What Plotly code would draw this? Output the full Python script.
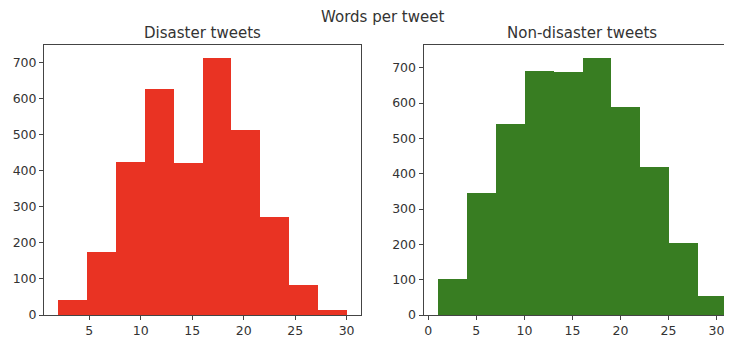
import plotly.graph_objects as go

# Data
dis_edges = [2, 4.8, 7.6, 10.4, 13.2, 16, 18.8, 21.6, 24.4, 27.2, 30]
dis_counts = [42, 175, 425, 625, 420, 712, 512, 272, 83, 15]
non_edges = [1, 4, 7, 10, 13, 16, 19, 22, 25, 28, 31]
non_counts = [101, 345, 542, 690, 687, 728, 588, 420, 205, 53]
dis_xticks = [5, 10, 15, 20, 25, 30]
non_xticks = [0, 5, 10, 15, 20, 25, 30]
yticks = [0, 100, 200, 300, 400, 500, 600, 700]

RED = "#e93323"
GREEN = "#387d22"
FONT = "DejaVu Sans"
AX = "#444444"
TXT = "#333333"


def centers(edges):
    return [(a + b) / 2 for a, b in zip(edges[:-1], edges[1:])]


def widths(edges):
    return [b - a for a, b in zip(edges[:-1], edges[1:])]


fig = go.Figure()
fig.add_trace(go.Bar(x=centers(dis_edges), y=dis_counts, width=widths(dis_edges),
                     marker=dict(color=RED, line=dict(width=0)),
                     xaxis="x", yaxis="y", showlegend=False))
fig.add_trace(go.Bar(x=centers(non_edges), y=non_counts, width=widths(non_edges),
                     marker=dict(color=GREEN, line=dict(width=0)),
                     xaxis="x2", yaxis="y2", showlegend=False))

# page body has an 8px margin, so the figure is placed at (8, 8)
OFF = 8
W, H = 732 - OFF, 338 - OFF
L, R, T, B = 44 - OFF, 0, 45 - OFF, 20
pw = W - L - R
ph = H - T - B


def px(x):  # window pixel -> paper x
    return (x - OFF - L) / pw


def py(y):  # window pixel -> paper y
    return (OFF + H - B - y) / ph


common = dict(showgrid=False, zeroline=False, showline=True, linecolor=AX, linewidth=1,
              ticks="outside", ticklen=4, tickcolor=AX, tickwidth=1,
              tickfont=dict(family=FONT, size=12.5, color=TXT))

fig.update_layout(
    width=W, height=H,
    margin=dict(l=L, r=R, t=T, b=B),
    paper_bgcolor="white", plot_bgcolor="white",
    bargap=0,
    font=dict(family=FONT, color=TXT),
    xaxis=dict(domain=[0, px(361)], range=[0.6, 31.4], tickvals=dis_xticks,
               mirror=True, anchor="y", **common),
    yaxis=dict(domain=[0, 1], range=[0, 747.6], tickvals=yticks,
               mirror=True, anchor="x", **common),
    xaxis2=dict(domain=[px(423.5), 1], range=[-0.5, 31.61], tickvals=non_xticks,
                mirror=True, anchor="y2", **common),
    yaxis2=dict(domain=[0, 1], range=[0, 764.4], tickvals=yticks,
                mirror=False, anchor="x2", **common),
    annotations=[
        dict(text="Words per tweet", x=px(382), xref="paper", y=py(17), yref="paper",
             xanchor="center", yanchor="middle",
             showarrow=False, font=dict(family=FONT, size=15, color=TXT)),
        dict(text="Disaster tweets", x=px(202), xref="paper", y=py(33), yref="paper",
             xanchor="center", yanchor="middle", showarrow=False,
             font=dict(family=FONT, size=15, color=TXT)),
        dict(text="Non-disaster tweets", x=px(582), xref="paper", y=py(33), yref="paper",
             xanchor="center", yanchor="middle", showarrow=False,
             font=dict(family=FONT, size=15, color=TXT)),
    ],
)

fig.write_html("out.html")
